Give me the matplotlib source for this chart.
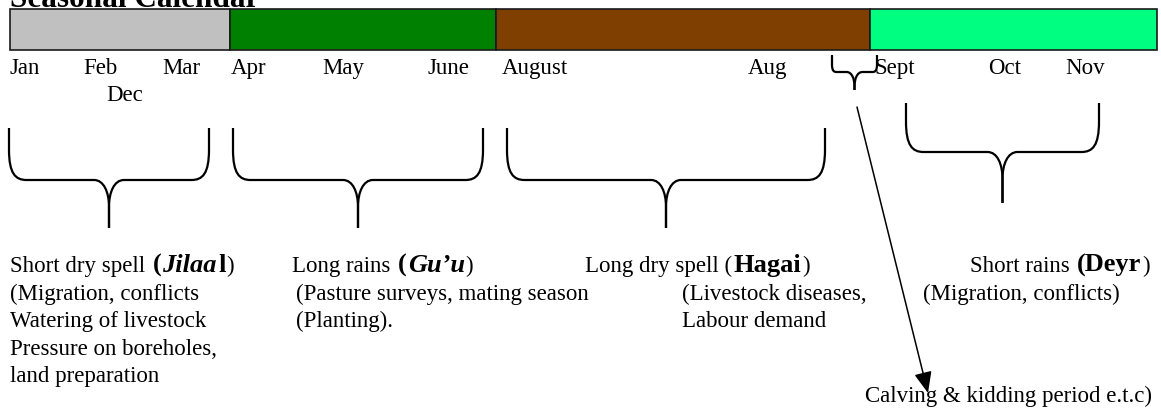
import matplotlib
matplotlib.use("Agg")
import matplotlib.pyplot as plt
from matplotlib.patches import Rectangle, PathPatch
from matplotlib.path import Path

plt.rcParams['font.family'] = ['Liberation Serif', 'DejaVu Serif']

# --- chart content -------------------------------------------------------
title = "Seasonal Calendar"
season_colors = ["#c0c0c0", "#008000", "#7f3f00", "#00ff80"]
month_labels = ["Jan", "Feb", "Mar", "Apr", "May", "June",
                "August", "Aug", "Sept", "Oct", "Nov"]
second_row_label = "Dec"

# heading pieces: (text, style)  n=normal, b=bold, bi=bold italic
headings = [
    [("Short dry spell", "n"), (" (", "b"), ("Jilaa", "bi"), ("l", "b"), (")", "n")],
    [("Long rains", "n"), (" (", "b"), ("Gu\u2019u", "bi"), (")", "n")],
    [("Long dry spell (", "n"), ("Hagai", "b"), (")", "n")],
    [("Short rains", "n"), (" (Deyr", "b"), (")", "n")],
]
details = [
    ["(Migration, conflicts", "Watering of livestock",
     "Pressure on boreholes,", "land preparation"],
    ["(Pasture surveys, mating season", "(Planting)."],
    ["(Livestock diseases,", "Labour demand"],
    ["(Migration, conflicts)"],
]
calving_note = "Calving & kidding period e.t.c)"

# --- layout (pixels, y downwards) ---------------------------------------
W, H = 1161, 417
bar_edges = [9.5, 230, 496, 870, 1157]
bar_top, bar_bot = 9, 50
label_x = [10, 83, 162, 231, 322, 427, 502, 748, 875, 988, 1065]
heading_x = [10, 292, 585, 970]
detail_x = [10, 296, 682, 923]
row_y = [272, 300, 327, 355, 382]
brace_spans = [(9, 209, 128, 180, 228), (233, 483, 128, 180, 228),
               (507, 825, 128, 180, 228), (906, 1099, 103, 152, 203)]

FS = 16.5
styles = {
    "n": dict(fontsize=FS),
    "b": dict(fontsize=19, fontweight="bold"),
    "bi": dict(fontsize=19, fontweight="bold", fontstyle="italic"),
}

fig = plt.figure(figsize=(W / 100, H / 100), dpi=100)
ax = fig.add_axes([0, 0, 1, 1])
ax.set_xlim(0, W)
ax.set_ylim(H, 0)
ax.axis("off")
renderer = fig.canvas.get_renderer()


def brace(x0, x1, ytop, ymid, ytip, ra=16, rc=15, lw=1.6):
    xc = (x0 + x1) / 2
    for side in (1, -1):
        xs = x0 if side == 1 else x1
        verts = [(xs, ytop), (xs, ymid - ra * 1.9),
                 (xs, ymid - ra * 0.4), (xs + side * ra * 0.4, ymid), (xs + side * ra * 1.1, ymid),
                 (xc - side * rc, ymid),
                 (xc - side * rc * 0.35, ymid), (xc, ymid + rc * 0.8), (xc, ymid + rc * 1.8),
                 (xc, ytip)]
        codes = [Path.MOVETO, Path.LINETO,
                 Path.CURVE4, Path.CURVE4, Path.CURVE4,
                 Path.LINETO,
                 Path.CURVE4, Path.CURVE4, Path.CURVE4,
                 Path.LINETO]
        ax.add_patch(PathPatch(Path(verts, codes), fill=False, lw=lw,
                               edgecolor="black", capstyle="butt"))


def rich_line(x, y, pieces):
    for txt, st in pieces:
        if txt.startswith(" "):
            x += 0.25 * styles[st]["fontsize"] * 100 / 72
            txt = txt.lstrip()
        t = ax.text(x, y, txt, va="baseline", ha="left", **styles[st])
        x = t.get_window_extent(renderer=renderer).x1 + 1


# title (partly cut off by the top edge)
ax.text(10, 7, title, fontsize=22.5, fontweight="bold", va="baseline")

# the coloured season bar
for i, c in enumerate(season_colors):
    ax.add_patch(Rectangle((bar_edges[i], bar_top), bar_edges[i + 1] - bar_edges[i],
                           bar_bot - bar_top, facecolor=c, edgecolor="#1a1a1a", lw=1.2))

for lab, x in zip(month_labels, label_x):
    ax.text(x, 74, lab, fontsize=FS, va="baseline")
ax.text(106, 101, second_row_label, fontsize=FS, va="baseline")

# braces
for span in brace_spans:
    brace(*span)
brace(832, 877, 55, 72, 90, ra=4, rc=8)

# arrow to calving note
ax.annotate("", xy=(928, 393), xytext=(857, 107),
            arrowprops=dict(arrowstyle="-|>,head_length=0.43,head_width=0.18",
                            mutation_scale=30, lw=1.1, color="black",
                            shrinkA=0, shrinkB=0))

# season descriptions
for hx, dx, head, lines in zip(heading_x, detail_x, headings, details):
    rich_line(hx, row_y[0], head)
    for j, line in enumerate(lines):
        ax.text(dx, row_y[j + 1], line, fontsize=FS, va="baseline")

ax.text(1152, 402, calving_note, fontsize=FS, va="baseline", ha="right")

fig.savefig("out.png", dpi=100)
